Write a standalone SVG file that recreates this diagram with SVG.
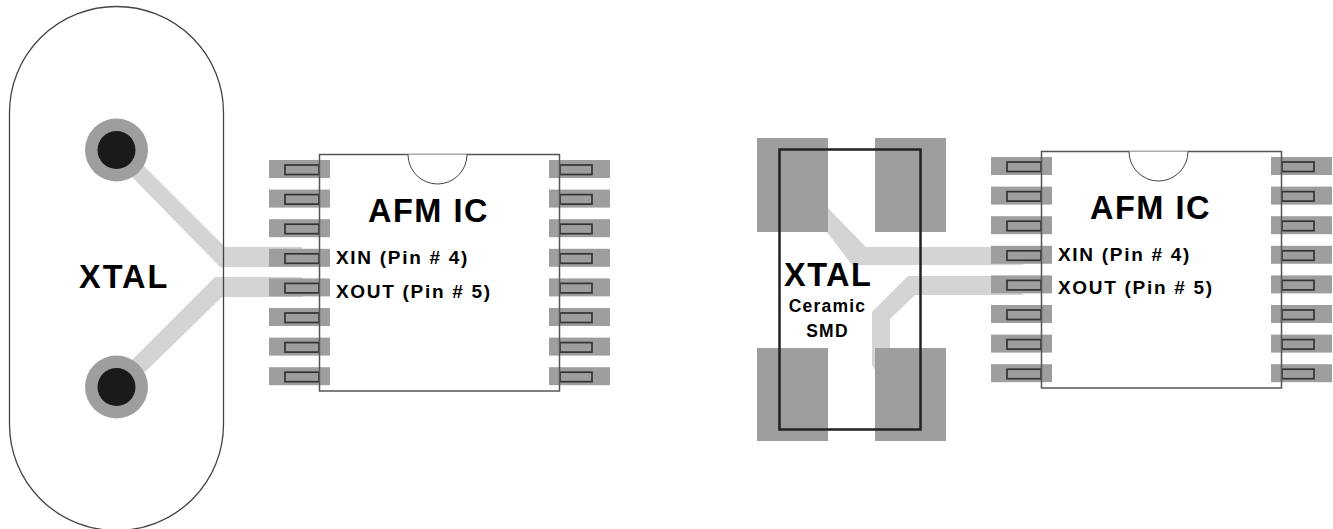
<svg xmlns="http://www.w3.org/2000/svg" width="1333" height="529" viewBox="0 0 1333 529">
<style>
text{font-family:"Liberation Sans",Arial,sans-serif;font-weight:bold;fill:#000}
.t{font-size:32.500px;letter-spacing:1.500px}
.x{font-size:32.500px;letter-spacing:2px}
.p{font-size:19px;letter-spacing:1.700px}
.c{font-size:17.500px;letter-spacing:1.200px;text-anchor:middle}
.pad{fill:#9e9e9e}
.pin{fill:none;stroke:#333;stroke-width:1.700}
.tr{fill:#d4d4d4}
.body{fill:#fff}
.edge{fill:none;stroke:#555;stroke-width:1.500}
.notch{fill:#fff;stroke:#444;stroke-width:1}
</style>
<defs>
<g id="pins">
<rect class="pad" x="0" y="0" width="61" height="18"/><rect class="pin" x="16" y="5" width="34" height="9.500"/>
</g>
<g id="pinsR">
<rect class="pad" x="0" y="0" width="61" height="18"/><rect class="pin" x="11" y="5" width="32" height="9.500"/>
</g>
<g id="ic">
<use href="#pins" y="0"/><use href="#pins" y="29.600"/><use href="#pins" y="59.200"/><use href="#pins" y="88.800"/><use href="#pins" y="118.400"/><use href="#pins" y="148"/><use href="#pins" y="177.600"/><use href="#pins" y="207.200"/>
<g transform="translate(280 0)"><use href="#pinsR" y="0"/><use href="#pinsR" y="29.600"/><use href="#pinsR" y="59.200"/><use href="#pinsR" y="88.800"/><use href="#pinsR" y="118.400"/><use href="#pinsR" y="148"/><use href="#pinsR" y="177.600"/><use href="#pinsR" y="207.200"/></g>
</g>
</defs>
<g id="connectors">
<path class="tr" d="M143 165L225 247H302V267H220L132 177Z"/>
<path class="tr" d="M215 277H302V297H222L145 372L132 360Z"/>
<path class="tr" d="M827 207L866 247H1023V265H852L827 232Z"/>
<path class="tr" d="M908 276H1023V295H915L890 319V350L875 370L872 365V312Z"/>
</g>
<g id="xtal-left">
<rect x="9.500" y="6.500" width="214" height="524" rx="107" ry="106" fill="none" stroke="#444" stroke-width="1.300"/>
<circle cx="116.500" cy="150" r="31.500" fill="#9e9e9e"/><circle cx="116.500" cy="150" r="19" fill="#1a1a1a"/>
<circle cx="116.500" cy="387" r="31.500" fill="#9e9e9e"/><circle cx="116.500" cy="387" r="19" fill="#1a1a1a"/>
<text class="x" x="79" y="288">XTAL</text>
</g>
<g id="ic-left">
<rect class="body" x="319.500" y="154.500" width="240" height="236.500"/>
<use href="#ic" x="269" y="160"/>
<rect class="edge" x="319.500" y="154.500" width="240" height="236.500"/>
<path class="notch" d="M408 154.500A29.500 29.500 0 0 0 467 154.500"/>
<text class="t" x="368" y="222">AFM IC</text>
<text class="p" x="336" y="264">XIN (Pin # 4)</text>
<text class="p" x="336" y="298">XOUT (Pin # 5)</text>
</g>
<g id="xtal-smd">
<rect class="pad" x="757" y="138" width="71" height="94"/>
<rect class="pad" x="875" y="138" width="71" height="94"/>
<rect class="pad" x="757" y="348" width="71" height="93"/>
<rect class="pad" x="875" y="348" width="71" height="93"/>
<rect x="779.500" y="149.500" width="141" height="280" fill="none" stroke="#222" stroke-width="2.500"/>
<text class="t" x="784" y="286" style="letter-spacing:1.500px">XTAL</text>
<text class="c" x="827.500" y="312">Ceramic</text>
<text class="c" x="827.500" y="337">SMD</text>
</g>
<g id="ic-right">
<rect class="body" x="1041.500" y="151.500" width="240" height="236.500"/>
<use href="#ic" x="991" y="157"/>
<rect class="edge" x="1041.500" y="151.500" width="240" height="236.500"/>
<path class="notch" d="M1129 151.500A29.500 29.500 0 0 0 1188 151.500"/>
<text class="t" x="1090" y="219">AFM IC</text>
<text class="p" x="1058" y="261">XIN (Pin # 4)</text>
<text class="p" x="1058" y="294">XOUT (Pin # 5)</text>
</g>
</svg>
